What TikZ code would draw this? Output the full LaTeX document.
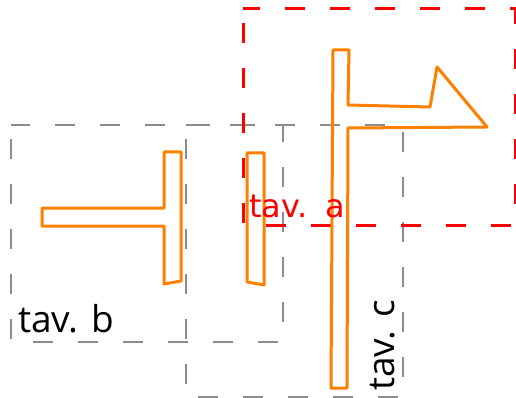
\documentclass[tikz,border=0pt]{standalone}
\usepackage{fontspec}
\setmainfont{Open Sans}
\newfontfamily\redfont{DejaVu Sans}
\definecolor{orng}{HTML}{FF8000}
\definecolor{grayline}{HTML}{8C8C8C}
\begin{document}
\begin{tikzpicture}[x=1pt,y=-1pt,
  graybox/.style={draw=grayline,line width=1.7pt,dash pattern=on 20pt off 25pt,dash phase=-14pt},
  redbox/.style={draw=red,line width=3pt,dash pattern=on 20pt off 25pt,dash phase=-14pt},
  shapeline/.style={draw=orng,line width=3pt,line join=round},
  blacklabel/.style={inner sep=0pt,font=\fontsize{37}{40}\selectfont,text=black},
  redlabel/.style={inner sep=0pt,font=\redfont\fontsize{32}{36}\selectfont,text=red}]
\useasboundingbox (0,0) rectangle (516,398);
% boxes
\draw[graybox] (11,125) rectangle (283,342);
\draw[graybox] (186,125) rectangle (403,397);
\draw[redbox] (243,9) rectangle (515,225);
% T shape
\draw[shapeline] (42,208) -- (164,208) -- (164,152) -- (181,152) -- (181,281) -- (164,284) -- (164,226) -- (42,226) -- cycle;
% bar
\draw[shapeline] (247,153) -- (264,153) -- (264,285) -- (247,282) -- cycle;
% flag
\draw[shapeline] (333,50) -- (349,50) -- (348,105) -- (430,107) -- (437,67) -- (487,127) -- (348,128) -- (347,388) -- (331,388) -- cycle;
% labels
\node[blacklabel,anchor=base west] (lb) at (18,332) {tav. b};
\node[blacklabel,anchor=base west,rotate=90] (lc) at (394,391) {tav. c};
\node[redlabel,anchor=base west] (la) at (249,217) {tav.\hspace{4pt} a};
\end{tikzpicture}
\end{document}
